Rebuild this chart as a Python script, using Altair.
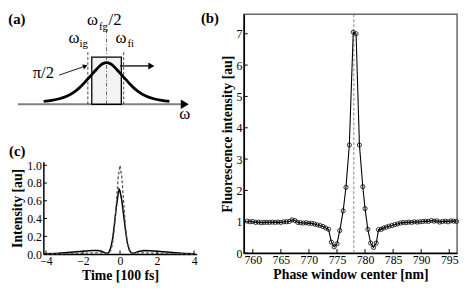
import altair as alt
import pandas as pd

SERIF = "Liberation Serif"

# ---------------- panel (b): fluorescence vs phase window center ----------------
b_wavelength = [759.0, 759.5, 760.0, 760.5, 761.0, 761.5, 762.0, 762.5, 763.0, 763.5,
                764.0, 764.5, 765.0, 765.5, 766.0, 766.5, 767.0, 767.5, 768.0, 768.5,
                769.0, 769.5, 770.0, 770.5, 771.0, 771.5, 772.0, 772.5, 773.0, 773.5,
                774.0, 774.5, 775.0, 775.5, 776.1, 776.6, 777.2, 777.9, 778.4, 779.0,
                779.6, 780.0, 780.5, 781.0, 781.5, 782.0, 782.4, 782.9, 783.3, 783.8,
                784.3, 784.8, 785.3, 785.8, 786.3, 786.8, 787.3, 787.8, 788.3, 788.8,
                789.3, 789.8, 790.3, 790.8, 791.3, 791.8, 792.3, 792.8, 793.3, 793.8,
                794.3, 794.8, 795.3, 795.8, 796.3]
b_intensity = [1.02, 1.00, 1.01, 0.98, 0.99, 0.97, 0.98, 0.98, 0.98, 0.99,
               0.98, 0.99, 0.98, 1.00, 1.00, 1.01, 1.06, 1.04, 0.98, 0.97,
               0.96, 0.97, 0.95, 0.95, 0.93, 0.90, 0.88, 0.85, 0.80, 0.76,
               0.35, 0.20, 0.30, 0.72, 1.35, 2.10, 3.45, 7.05, 7.00, 3.45,
               2.12, 1.42, 0.76, 0.32, 0.18, 0.32, 0.75, 0.76, 0.80, 0.83,
               0.86, 0.88, 0.91, 0.93, 0.96, 0.98, 0.97, 0.99, 0.98, 1.00,
               0.99, 1.00, 1.01, 1.02, 1.01, 1.04, 1.02, 1.03, 0.99, 1.01,
               1.02, 1.00, 1.03, 1.02, 1.01]
b_center = [778.0]
b_xticks = [760, 765, 770, 775, 780, 785, 790, 795]
b_yticks = [0, 1, 2, 3, 4, 5, 6, 7]
B_XDOM = [758.4, 796.4]
B_YDOM = [0, 7.62]
b_label = ["(b)"]
b_label_x = [752.36]
b_label_y = [7.495]

# ---------------- panel (c): temporal intensity ----------------
c_time_dashed = [-4.0, -2.0, -1.0, -0.7, -0.6, -0.5, -0.4, -0.3, -0.2, -0.1, 0.0,
                 0.1, 0.2, 0.3, 0.4, 0.5, 0.6, 0.7, 1.0, 2.0, 4.0]
c_int_dashed = [0.0, 0.01, 0.015, 0.01, 0.015, 0.04, 0.12, 0.30, 0.57, 0.86, 1.00,
                0.86, 0.57, 0.30, 0.12, 0.04, 0.015, 0.01, 0.015, 0.01, 0.0]
c_time_solid = [-4.0, -3.5, -3.0, -2.5, -2.0, -1.5, -1.2, -1.0, -0.8, -0.7, -0.6, -0.5,
                -0.4, -0.3, -0.2, -0.1, -0.05, 0.0, 0.1, 0.2, 0.3, 0.4, 0.5, 0.6, 0.7,
                0.8, 1.0, 1.3, 1.6, 2.0, 2.5, 3.0, 3.5, 4.0]
c_int_solid = [0.003, 0.008, 0.015, 0.024, 0.032, 0.040, 0.040, 0.032, 0.014, 0.006, 0.020, 0.07,
               0.17, 0.34, 0.53, 0.68, 0.73, 0.71, 0.60, 0.43, 0.26, 0.12, 0.05, 0.015, 0.006,
               0.014, 0.030, 0.040, 0.038, 0.032, 0.024, 0.015, 0.008, 0.003]
c_xticks = [-4, -2, 0, 2, 4]
c_yticks = [0.0, 0.2, 0.4, 0.6, 0.8, 1.0]
C_XDOM = [-4.14, 4.14]
C_YDOM = [0, 1.04]
c_label = ["(c)"]
c_label_x = [-5.55]
c_label_y = [1.165]

# ---------------- panel (a): schematic spectrum + phase window ----------------
a_omega = [-4.0, -3.5, -3.0, -2.5, -2.0, -1.75, -1.5, -1.25, -1.0, -0.75, -0.5, -0.25, 0.0,
           0.25, 0.5, 0.75, 1.0, 1.25, 1.5, 1.75, 2.0, 2.5, 3.0, 3.5, 4.0]
a_amp = [0.075, 0.10, 0.14, 0.21, 0.33, 0.41, 0.51, 0.62, 0.73, 0.84, 0.95, 1.03, 1.06,
         1.03, 0.95, 0.84, 0.73, 0.62, 0.51, 0.41, 0.33, 0.21, 0.14, 0.10, 0.075]
a_axis_x = [-5.64, 4.79]
a_axis_tip = [4.98]
a_window_x = [-0.94, 0.94]
a_window_y = [0.0, 1.2]
a_edges_x = [-1.19, 1.09]
a_edges_top = [1.325]
a_center_top = [1.9]
a_pi_arrow_x = [-3.02, -1.35]
a_pi_arrow_y = [0.74, 0.97]
a_shift_arrow_x = [0.86, 2.85]
a_shift_arrow_y = [0.975]
a_big_text = ["ω", "ω", "ω", "ω"]
a_big_x = [-0.89, -2.08, 0.92, 4.98]
a_big_y = [2.15, 1.675, 1.675, -0.25]
a_sub_text = ["fg", "ig", "fi"]
a_sub_x = [-0.2, -1.46, 1.54]
a_sub_y = [1.97, 1.525, 1.525]
a_misc_text = ["/2", "π/2"]
a_misc_x = [0.54, -4.02]
a_misc_y = [2.15, 0.8]
a_label = ["(a)"]
a_label_x = [-5.71]
a_label_y = [2.17]
A_XDOM = [-4.02, 5.61]
A_YDOM = [-0.4375, 2.2875]

# ================= panel (a) =================
ax_ = lambda f: alt.X(f, scale=alt.Scale(domain=A_XDOM, nice=False, zero=False), axis=None)
ay_ = lambda f: alt.Y(f, scale=alt.Scale(domain=A_YDOM, nice=False, zero=False), axis=None)

axis_df = pd.DataFrame({"x": [a_axis_x[0]], "x2": [a_axis_x[1]], "y": [0.0]})
a_axis = alt.Chart(axis_df).mark_rule(color="#808080", strokeWidth=2.2).encode(
    x=ax_("x:Q"), x2="x2:Q", y=ay_("y:Q"))
tip_df = pd.DataFrame({"x": a_axis_tip, "y": [0.0]})
a_tip = alt.Chart(tip_df).mark_point(shape="triangle-right", filled=True, color="black",
                                     size=90, opacity=1).encode(x=ax_("x:Q"), y=ay_("y:Q"))
win_df = pd.DataFrame({"x": [a_window_x[0]], "x2": [a_window_x[1]],
                       "y": [a_window_y[0]], "y2": [a_window_y[1]]})
a_win = alt.Chart(win_df).mark_rect(fill="#f3f3f3", stroke="black", strokeWidth=1.3).encode(
    x=ax_("x:Q"), x2="x2:Q", y=ay_("y:Q"), y2="y2:Q")
edge_df = pd.DataFrame({"x": a_edges_x, "y": [0.0, 0.0], "y2": a_edges_top * 2})
a_edges = alt.Chart(edge_df).mark_rule(color="#333", strokeWidth=0.9, strokeDash=[3, 2]).encode(
    x=ax_("x:Q"), y=ay_("y:Q"), y2="y2:Q")
cen_df = pd.DataFrame({"x": [0.0], "y": [0.0], "y2": a_center_top})
a_cen = alt.Chart(cen_df).mark_rule(color="#555", strokeWidth=0.9, strokeDash=[4, 2, 1, 2]).encode(
    x=ax_("x:Q"), y=ay_("y:Q"), y2="y2:Q")
spec_df = pd.DataFrame({"x": a_omega, "y": a_amp})
a_spec = alt.Chart(spec_df).mark_line(color="black", strokeWidth=2.8, interpolate="monotone").encode(
    x=ax_("x:Q"), y=ay_("y:Q"))
pi_df = pd.DataFrame({"x": a_pi_arrow_x, "y": a_pi_arrow_y})
a_pi_line = alt.Chart(pi_df).mark_line(color="black", strokeWidth=0.9).encode(
    x=ax_("x:Q"), y=ay_("y:Q"))
pi_tip_df = pd.DataFrame({"x": [a_pi_arrow_x[1]], "y": [a_pi_arrow_y[1]]})
a_pi_tip = alt.Chart(pi_tip_df).mark_point(shape="triangle-right", filled=True, color="black",
                                           size=30, angle=340, opacity=1).encode(
    x=ax_("x:Q"), y=ay_("y:Q"))
sh_df = pd.DataFrame({"x": a_shift_arrow_x, "y": a_shift_arrow_y * 2})
a_sh_line = alt.Chart(sh_df).mark_line(color="black", strokeWidth=1.3).encode(
    x=ax_("x:Q"), y=ay_("y:Q"))
sh_tip_df = pd.DataFrame({"x": [a_shift_arrow_x[1]], "y": a_shift_arrow_y})
a_sh_tip = alt.Chart(sh_tip_df).mark_point(shape="triangle-right", filled=True, color="black",
                                           size=50, opacity=1).encode(x=ax_("x:Q"), y=ay_("y:Q"))
big_df = pd.DataFrame({"t": a_big_text, "x": a_big_x, "y": a_big_y})
a_big = alt.Chart(big_df).mark_text(font=SERIF, fontSize=17, color="black").encode(
    x=ax_("x:Q"), y=ay_("y:Q"), text="t:N")
sub_df = pd.DataFrame({"t": a_sub_text, "x": a_sub_x, "y": a_sub_y})
a_sub = alt.Chart(sub_df).mark_text(font=SERIF, fontSize=11, color="black").encode(
    x=ax_("x:Q"), y=ay_("y:Q"), text="t:N")
misc_df = pd.DataFrame({"t": a_misc_text, "x": a_misc_x, "y": a_misc_y})
a_misc = alt.Chart(misc_df).mark_text(font=SERIF, fontSize=17, color="black").encode(
    x=ax_("x:Q"), y=ay_("y:Q"), text="t:N")
lab_df = pd.DataFrame({"t": a_label, "x": a_label_x, "y": a_label_y})
a_lab = alt.Chart(lab_df).mark_text(font=SERIF, fontSize=15, fontWeight="bold", color="black").encode(
    x=ax_("x:Q"), y=ay_("y:Q"), text="t:N")

panel_a = alt.layer(a_axis, a_tip, a_win, a_edges, a_cen, a_spec, a_pi_line, a_pi_tip,
                    a_sh_line, a_sh_tip, a_big, a_sub, a_misc, a_lab).properties(width=154, height=109)

# ================= panel (c) =================
C_XAX = alt.Axis(values=c_xticks, title="Time [100 fs]", format="d")
C_YAX = alt.Axis(values=c_yticks, title="Intensity [au]", format=".1f")

def c_x(f):
    return alt.X(f, scale=alt.Scale(domain=C_XDOM, nice=False, zero=False), axis=C_XAX)

def c_y(f):
    return alt.Y(f, scale=alt.Scale(domain=C_YDOM, nice=False, zero=False), axis=C_YAX)

cs_df = pd.DataFrame({"t": c_time_solid, "i": c_int_solid})
cd_df = pd.DataFrame({"t": c_time_dashed, "i": c_int_dashed})
c_solid = alt.Chart(cs_df).mark_line(color="black", strokeWidth=1.5).encode(x=c_x("t:Q"), y=c_y("i:Q"))
c_dash = alt.Chart(cd_df).mark_line(color="#555", strokeWidth=1.3, strokeDash=[3, 2]).encode(
    x=c_x("t:Q"), y=c_y("i:Q"))
cxt_df = pd.DataFrame({"t": c_xticks, "i": [0.0] * len(c_xticks), "i2": [0.04] * len(c_xticks)})
c_xt = alt.Chart(cxt_df).mark_rule(color="black", strokeWidth=1).encode(
    x=c_x("t:Q"), y=c_y("i:Q"), y2="i2:Q")
cyt_df = pd.DataFrame({"i": c_yticks, "t": [C_XDOM[0]] * len(c_yticks), "t2": [C_XDOM[0] + 0.2] * len(c_yticks)})
c_yt = alt.Chart(cyt_df).mark_rule(color="black", strokeWidth=1).encode(
    y=c_y("i:Q"), x=c_x("t:Q"), x2="t2:Q")
clab_df = pd.DataFrame({"t": c_label_x, "i": c_label_y, "s": c_label})
c_lab = alt.Chart(clab_df).mark_text(font=SERIF, fontSize=15, fontWeight="bold", color="black",
                                     clip=False).encode(x=c_x("t:Q"), y=c_y("i:Q"), text="s:N")

panel_c = alt.layer(c_solid, c_dash, c_xt, c_yt, c_lab).properties(width=156, height=94)

# ================= panel (b) =================
B_XAX = alt.Axis(values=b_xticks, title="Phase window center [nm]", format="d")
B_YAX = alt.Axis(values=b_yticks, title="Fluorescence intensity [au]", format="d")

def b_x(f):
    return alt.X(f, scale=alt.Scale(domain=B_XDOM, nice=False, zero=False), axis=B_XAX)

def b_y(f):
    return alt.Y(f, scale=alt.Scale(domain=B_YDOM, nice=False, zero=False), axis=B_YAX)

bd_df = pd.DataFrame({"w": b_wavelength, "v": b_intensity})
bc_df = pd.DataFrame({"w": b_center, "v": [B_YDOM[0]], "v2": [B_YDOM[1]]})
b_cen = alt.Chart(bc_df).mark_rule(color="#777", strokeWidth=0.9, strokeDash=[3, 2]).encode(
    x=b_x("w:Q"), y=b_y("v:Q"), y2="v2:Q")
b_line = alt.Chart(bd_df).mark_line(color="black", strokeWidth=1.1).encode(
    x=b_x("w:Q"), y=b_y("v:Q"))
b_pts = alt.Chart(bd_df).mark_point(shape="circle", filled=False, color="black", size=18,
                                    strokeWidth=0.8, opacity=1).encode(
    x=b_x("w:Q"), y=b_y("v:Q"))
bxt_df = pd.DataFrame({"w": b_xticks, "v": [0.0] * len(b_xticks), "v2": [0.13] * len(b_xticks)})
b_xt = alt.Chart(bxt_df).mark_rule(color="black", strokeWidth=1).encode(
    x=b_x("w:Q"), y=b_y("v:Q"), y2="v2:Q")
byt_df = pd.DataFrame({"v": b_yticks, "w": [B_XDOM[0]] * len(b_yticks), "w2": [B_XDOM[0] + 0.7] * len(b_yticks)})
b_yt = alt.Chart(byt_df).mark_rule(color="black", strokeWidth=1).encode(
    y=b_y("v:Q"), x=b_x("w:Q"), x2="w2:Q")
blab_df = pd.DataFrame({"w": b_label_x, "v": b_label_y, "s": b_label})
b_lab = alt.Chart(blab_df).mark_text(font=SERIF, fontSize=15, fontWeight="bold", color="black",
                                     clip=False).encode(x=b_x("w:Q"), y=b_y("v:Q"), text="s:N")

panel_b = alt.layer(b_cen, b_line, b_pts, b_xt, b_yt, b_lab).properties(
    width=217, height=243,
    view=alt.ViewBackground(stroke="#666", strokeWidth=1.5))

left = alt.vconcat(panel_a, panel_c, spacing=21)
chart = alt.hconcat(left, panel_b, spacing=2).configure(
    padding=0
).configure_view(strokeWidth=0).configure_axis(
    grid=False, ticks=False, domainColor="black", domainWidth=1.5,
    labelFont=SERIF, labelFontSize=12, labelColor="black", labelPadding=2,
    titleFont=SERIF, titleFontSize=14, titleFontWeight="bold", titleColor="black", titlePadding=2,
)

chart.save("out.html", embed_options={"renderer": "svg", "actions": False})
